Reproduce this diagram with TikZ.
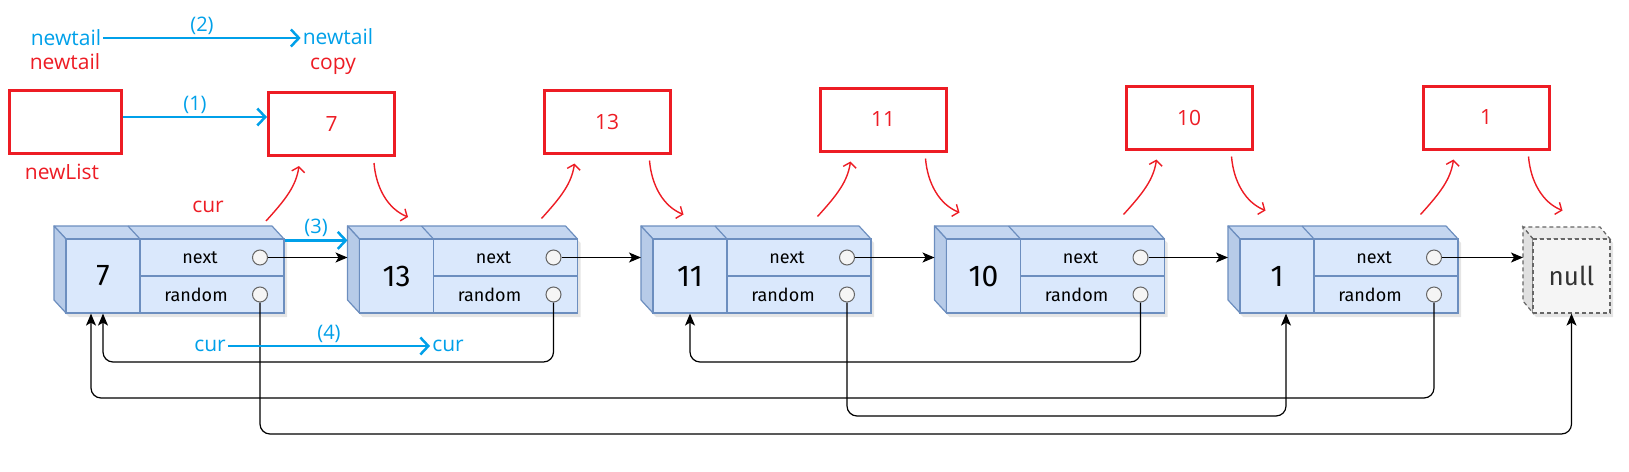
\documentclass[tikz,border=0pt]{standalone}
\usepackage{fontspec}
\setmainfont{Open Sans}
\newfontfamily\cellfont{Fira Sans}
\usepackage{tikz}
\usetikzlibrary{arrows.meta, positioning, calc}

\definecolor{cellfill}{RGB}{218,232,252}
\definecolor{cellline}{RGB}{108,142,191}
\colorlet{topcol}{cellfill!80!cellline}
\colorlet{sidecol}{cellfill!68!cellline}
\definecolor{ptrfill}{RGB}{245,245,245}
\definecolor{ptrline}{RGB}{102,102,102}
\definecolor{nulltop}{RGB}{236,236,236}
\definecolor{nullside}{RGB}{224,224,224}
\definecolor{copyred}{RGB}{237,28,36}
\definecolor{stepblue}{RGB}{0,160,233}

\begin{document}
\begin{tikzpicture}[x=1pt, y=-1pt,
    cell/.style={draw=cellline, fill=cellfill, line width=1.2pt, inner sep=0pt},
    face/.style={draw=cellline, line width=1.2pt, line join=round},
    ptr/.style={circle, draw=ptrline, fill=ptrfill, line width=1pt,
      minimum size=15pt, inner sep=0pt},
    celltext/.style={inner sep=0pt, font=\cellfont\fontsize{18}{20}\selectfont},
    nullbox/.style={draw=ptrline, dashed, dash pattern=on 4pt off 3pt,
      fill=ptrfill, line width=1.2pt, minimum width=77pt, minimum height=74pt,
      text=black!80, font=\cellfont\fontsize{26}{28}\selectfont},
    nextarrow/.style={-{Stealth[length=12pt, width=10pt, inset=3pt]}, line width=1.2pt},
    randarrow/.style={nextarrow, rounded corners=10pt},
    copybox/.style={draw=copyred, line width=3pt, minimum width=126pt,
      minimum height=63pt, text=copyred, font=\fontsize{21}{24}\selectfont},
    handarrow/.style={copyred, line width=1.4pt, -{Straight Barb[length=5pt, width=13pt]}},
    bluearrow/.style={stepblue, line width=2.5pt, -{Straight Barb[length=8pt, width=17pt]}},
    bluetext/.style={text=stepblue, inner sep=2pt, font=\fontsize{21}{24}\selectfont},
    redtext/.style={text=copyred, inner sep=2pt, font=\fontsize{21}{24}\selectfont},
    steplabel/.style={text=stepblue, inner sep=2pt, font=\fontsize{20}{22}\selectfont},
  ]
  \useasboundingbox (0,0) rectangle (1629,471);

  % Original list: 3D boxes
  \foreach \val [count=\i from 0] in {7,13,11,10,1} {
    \pgfmathsetmacro{\X}{66+293.5*\i}
    \fill[black, opacity=0.1, shift={(3,4)}]
      (\X-12,226) -- (\X+206,226) -- (\X+218,239) -- (\X+218,313)
      -- (\X,313) -- (\X-12,300) -- cycle;
    \filldraw[face, fill=topcol]
      (\X,239) -- (\X-12,226) -- (\X+206,226) -- (\X+218,239) -- cycle;
    \draw[face] (\X+74,239) -- (\X+62,226);
    \filldraw[face, fill=sidecol]
      (\X,239) -- (\X-12,226) -- (\X-12,300) -- (\X,313) -- cycle;
    \node[cell, minimum width=74pt, minimum height=74pt,
      font=\cellfont\fontsize{30}{32}\selectfont] (v\i) at (\X+37,276) {\val};
    \node[cell, minimum width=144pt, minimum height=37pt] (n\i) at (\X+146,257.5) {};
    \node[cell, minimum width=144pt, minimum height=37pt] (r\i) at (\X+146,294.5) {};
    \node[celltext] (nt\i) at (\X+134,257.5) {next};
    \node[celltext] (rt\i) at (\X+130,294.5) {random};
    \node[ptr] (nc\i) at (\X+194,257.5) {};
    \node[ptr] (rc\i) at (\X+194,294.5) {};
    \coordinate (in\i) at (\X-12,257.5);
  }

  % null
  \fill[black, opacity=0.1, shift={(3,4)}]
    (1523,227) -- (1600,227) -- (1610,239) -- (1610,313) -- (1533,313) -- (1523,301) -- cycle;
  \filldraw[draw=ptrline, dash pattern=on 4pt off 3pt, line width=1.2pt, fill=nulltop]
    (1533,239) -- (1523,227) -- (1600,227) -- (1610,239) -- cycle;
  \filldraw[draw=ptrline, dash pattern=on 4pt off 3pt, line width=1.2pt, fill=nullside]
    (1533,239) -- (1523,227) -- (1523,301) -- (1533,313) -- cycle;
  \node[nullbox] (null) at (1571.5,276) {null};
  \coordinate (innull) at (1523,257.5);

  % next pointers
  \foreach \a/\b in {0/1, 1/2, 2/3, 3/4}
    \draw[nextarrow] (nc\a.east) -- (in\b);
  \draw[nextarrow] (nc4.east) -- (innull);

  % random pointers
  \draw[randarrow] (rc0.south) -- (rc0.south |- 0,434) -| (null.south);
  \draw[randarrow] (rc1.south) -- (rc1.south |- 0,362) -| (v0.south);
  \draw[randarrow] (rc3.south) -- (rc3.south |- 0,362) -| (v2.south);
  \draw[randarrow] (rc4.south) -- (rc4.south |- 0,398) -| ([xshift=-12pt]v0.south);
  \draw[randarrow] (rc2.south) -- (rc2.south |- 0,416) -| ([xshift=9pt]v4.south);

  % copied list
  \node[copybox, minimum width=112pt] (newlist) at (65.5,122) {};
  \foreach \val/\cx/\cy [count=\i from 0] in
    {7/331.5/124, 13/607/121.5, 11/883/119.5, 10/1189/117.5, 1/1486/117.5} {
    \node[copybox] (c\i) at (\cx,\cy) {\val};
    \draw[handarrow] ($(c\i.south west)+(-1,64)$)
      .. controls +(20,-22) and +(-3,20) .. ($(c\i.south west)+(32,9)$);
    \draw[handarrow] ($(c\i.south east)+(-22,6)$)
      .. controls +(2,25) and +(-20,-8) .. ($(c\i.south east)+(12,60)$);
  }

  % Annotations
  \node[bluetext] (tailold) at (66,38) {newtail};
  \node[redtext] (tailred) at (65,62) {newtail};
  \node[bluetext] (tailnew) at (338,37) {newtail};
  \node[redtext] (copylbl) at (333,66) {copy};
  \node[redtext] (newlistlbl) at (62,172) {newList};
  \node[redtext] (curred) at (208,207) {cur};
  \node[bluetext] (curold) at (210,346) {cur};
  \node[bluetext] (curnew) at (448,346) {cur};

  \coordinate (s1a) at ([yshift=5pt]newlist.east);
  \draw[bluearrow] (s1a) -- (s1a -| c0.west)
    node[steplabel, midway, above] (s1) {(1)};
  \draw[bluearrow] (tailold.east) -- (tailold.east -| tailnew.west)
    node[steplabel, midway, above] (s2) {(2)};
  \coordinate (s3a) at ([yshift=-2pt]n0.north east);
  \draw[bluearrow] (s3a) -- (s3a -| in1)
    node[steplabel, midway, above] (s3) {(3)};
  \draw[bluearrow] (curold.east) -- (curnew.west)
    node[steplabel, midway, above] (s4) {(4)};

\end{tikzpicture}
\end{document}
